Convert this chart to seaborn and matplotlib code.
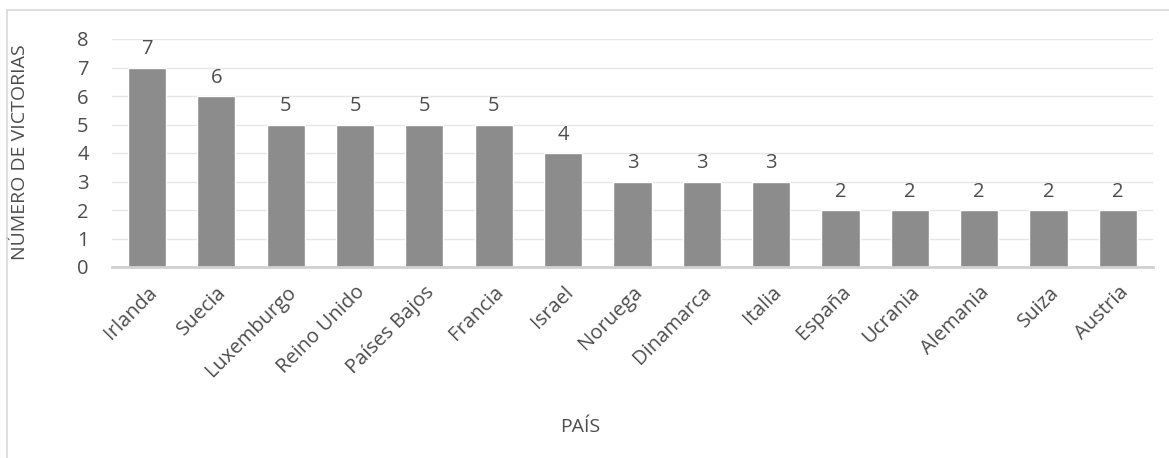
import matplotlib
matplotlib.use("Agg")
import matplotlib.pyplot as plt
import seaborn as sns
import pandas as pd
from matplotlib.lines import Line2D

paises = ["Irlanda", "Suecia", "Luxemburgo", "Reino Unido", "Países Bajos", "Francia",
          "Israel", "Noruega", "Dinamarca", "Italia", "España", "Ucrania", "Alemania",
          "Suiza", "Austria"]
victorias = [7, 6, 5, 5, 5, 5, 4, 3, 3, 3, 2, 2, 2, 2, 2]

sns.set_theme(style="white")
plt.rcParams["font.family"] = ["Open Sans", "DejaVu Sans"]
TXT = "#4d4d4d"
FS = 14.5

df = pd.DataFrame({"pais": paises, "victorias": victorias})

fig = plt.figure(figsize=(11.69, 4.58), dpi=100)
ax = fig.add_axes([112.3 / 1169, 191 / 458, 1040.3 / 1169, 228 / 458])

sns.barplot(data=df, x="pais", y="victorias", color="#8c8c8c", saturation=1,
            width=0.55, ax=ax, zorder=3)

ax.set_ylim(0, 8)
ax.set_xlim(-0.5, len(paises) - 0.5)
ax.set_yticks(range(0, 9))
ax.yaxis.grid(True, color="#e6e6e6", linewidth=1, zorder=0)
ax.xaxis.grid(False)
for s in ["top", "right", "left"]:
    ax.spines[s].set_visible(False)
ax.spines["bottom"].set_color("#d0d0d0")
ax.spines["bottom"].set_linewidth(2)
ax.spines["bottom"].set_zorder(4)
ax.tick_params(axis="both", length=0, labelsize=FS, colors=TXT)
ax.tick_params(axis="y", pad=17)
ax.tick_params(axis="x", pad=11)
plt.setp(ax.get_xticklabels(), rotation=45, ha="right", rotation_mode="anchor")

for c in ax.containers:
    ax.bar_label(c, labels=[str(v) for v in victorias], padding=6, fontsize=FS, color=TXT)

ax.set_xlabel("PAÍS", fontsize=14, color=TXT, labelpad=0)
ax.xaxis.set_label_coords((580 - 112.3) / 1040.3, (458 - 418 - 191) / 228)
ax.set_ylabel("NÚMERO DE VICTORIAS", fontsize=14, color=TXT)
ax.yaxis.set_label_coords((29 - 112.3) / 1040.3, (458 - 152 - 191) / 228)

# chart-area border
fig.add_artist(Line2D([7 / 1169, 7 / 1169], [0, 1 - 10 / 458], transform=fig.transFigure,
                      color="#d9d9d9", linewidth=1.2))
fig.add_artist(Line2D([7 / 1169, 1], [1 - 10 / 458, 1 - 10 / 458], transform=fig.transFigure,
                      color="#d9d9d9", linewidth=1.2))

fig.savefig("out.png", dpi=100)
